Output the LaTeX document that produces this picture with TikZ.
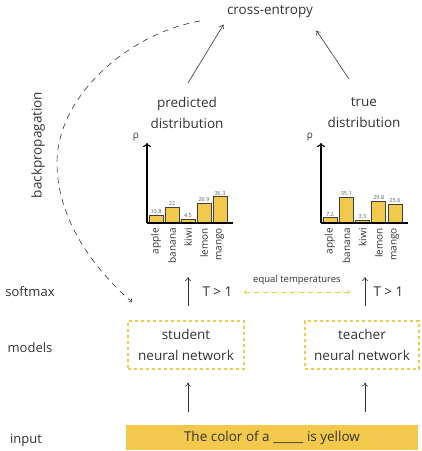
\documentclass[tikz,border=0pt]{standalone}
\usepackage{fontspec}
\setmainfont{Open Sans}
\usetikzlibrary{arrows.meta,positioning}
\definecolor{mellow}{HTML}{F2C94C}
\colorlet{ink}{black!80}

\begin{document}
\begin{tikzpicture}[
x=1pt,y=-1pt,
every node/.style={text=ink,font=\fontsize{13.5}{21}\selectfont},
Flow/.style={-{To[length=4pt,width=6pt]},ink,semithick},
Axis/.style={-{To[length=4pt,width=8pt]},black,line width=1.2pt},
Bars/.style={draw=black!75,fill=mellow,line width=0.8pt},
NetBox/.style={draw=mellow,dashed,line width=1.1pt,minimum height=48pt,align=center},
Tiny/.style={font=\fontsize{5.5}{6}\selectfont,text=black!65,inner sep=1pt},
Fruit/.style={rotate=90,anchor=east,inner sep=1pt,font=\fontsize{10}{11}\selectfont},
Side/.style={font=\fontsize{13}{15}\selectfont}
]
\useasboundingbox (0,0) rectangle (422,451);

% top
\node (ce) at (270,12) {cross-entropy};
\node[align=center] (pred) at (187,113) {predicted\\distribution};
\node[align=center] (true) at (364,113) {true\\distribution};

\draw[Flow] (188,83) -- ([yshift=-3pt]ce.south west);
\draw[Flow] (349,79) -- ([yshift=-9pt]ce.south east);

% backpropagation
\coordinate (bpstart) at (200,21);
\coordinate (bpend) at (132,302);
\draw[-{To[length=3pt,width=5pt]},ink,semithick,dash pattern=on 6pt off 5pt]
  (bpstart) .. controls (130,33) and (57,95) .. (57,163)
  .. controls (57,220) and (95,270) .. (bpend);
\node[rotate=90] (bp) at (38,145) {backpropagation};

% predicted distribution
\begin{scope}[shift={(147,223)}]
\coordinate (predaxis) at (0,0);
\draw[Axis] (0,0) -- (0,-80);
\node[font=\fontsize{10}{11}\selectfont] at (-11,-86) {ρ};
\foreach \v/\name [count=\i from 0] in {10.8/apple,22/banana,4.5/kiwi,26.9/lemon,36.3/mango}{
  \draw[Bars] (2+16*\i,0) rectangle (16+16*\i,-0.72*\v);
  \node[Tiny,anchor=south] at (9+16*\i,-0.72*\v-0.5) {\v};
  \node[Fruit] at (9+16*\i,4) {\name};
}
\draw[line width=1.2pt] (0,0) -- (86,0);
\end{scope}

% true distribution
\begin{scope}[shift={(321,223)}]
\coordinate (trueaxis) at (0,0);
\draw[Axis] (0,0) -- (0,-80);
\node[font=\fontsize{10}{11}\selectfont] at (-11,-86) {ρ};
\foreach \v/\name [count=\i from 0] in {7.2/apple,35.1/banana,3.3/kiwi,29.8/lemon,25.6/mango}{
  \draw[Bars] (2+16.25*\i,0) rectangle (16+16.25*\i,-0.72*\v);
  \node[Tiny,anchor=south] at (9+16.25*\i,-0.72*\v-0.5) {\v};
  \node[Fruit] at (9+16.25*\i,4) {\name};
}
\draw[line width=1.2pt] (0,0) -- (87,0);
\end{scope}

% row labels
\node[Side] (softmax) at (30,292) {softmax};
\node[Side] (models) at (30,348) {models};
\node[Side] (input) at (26,440) {input};

% models
\node[NetBox,minimum width=116pt] (stu) at (186,345) {student\\neural network};
\node[NetBox,minimum width=114pt] (tea) at (362,345) {teacher\\neural network};

% input sentence
\node[fill=mellow,minimum width=292pt,minimum height=25pt] (sent) at (272,437.5)
  {The color of a \_\_\_\_\_ is yellow};

\coordinate (stusm) at (188,277);
\coordinate (teasm) at (365,277);
\draw[Flow] (stu.north -| stusm) ++(0,-14) -- (stusm);
\draw[Flow] (tea.north -| teasm) ++(0,-14) -- (teasm);
\node[anchor=west] (tstu) at (199,292) {T > 1};
\node[anchor=west] (ttea) at (370,292) {T > 1};

\node[font=\fontsize{9.5}{10}\selectfont] (eq) at (297,280) {equal temperatures};
\draw[{To[length=3pt,width=5pt]}-{To[length=3pt,width=5pt]},mellow,semithick,dash pattern=on 5pt off 4pt]
  ([xshift=8pt]tstu.east) -- ([xshift=-15pt]teasm |- tstu.east);

\draw[Flow,shorten <=13pt,shorten >=13pt] (sent.north -| stusm) -- (stu.south -| stusm);
\draw[Flow,shorten <=13pt,shorten >=13pt] (sent.north -| teasm) -- (tea.south -| teasm);

\end{tikzpicture}
\end{document}
